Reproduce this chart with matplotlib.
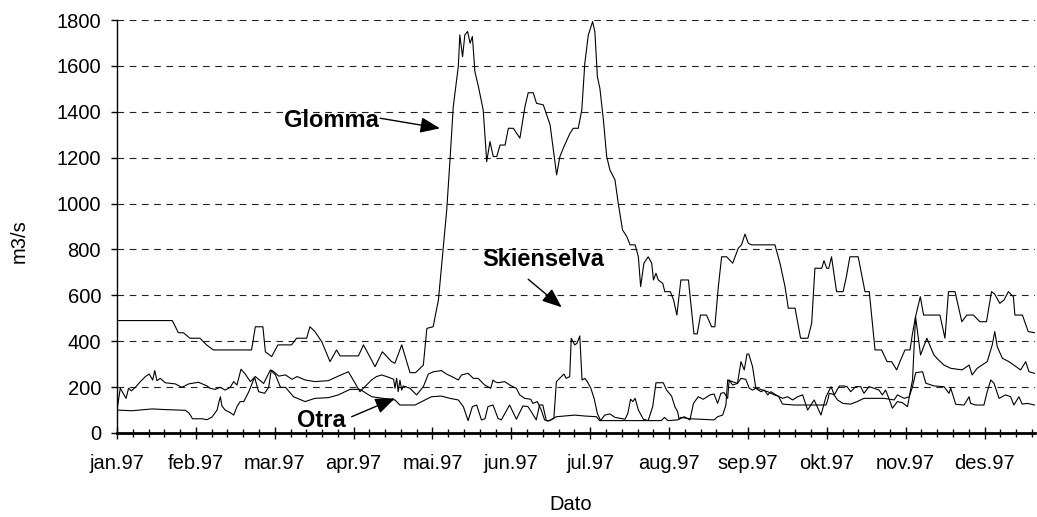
import matplotlib
matplotlib.use("Agg")
import matplotlib.pyplot as plt
import numpy as np

# MATPLOTLIB PARAMS
plt.rcParams['font.family'] = ['Liberation Sans', 'DejaVu Sans']
plt.rcParams['font.size'] = 14.5
plt.rcParams['axes.linewidth'] = 1.0

# DATA : DAILY DISCHARGE 1997 (DAY OF YEAR , m3/s)
glomma_dag = [0, 22, 24.4, 26.4, 29, 33, 35.6, 38.3, 53.5, 55, 58, 59, 61.5, 64, 69.4, 71.4, 75.4,
              76.7, 78.7, 81.4, 84.7, 87.3, 88.7, 96, 98, 102.6, 105.5, 109.2, 110.5, 113.2, 116.5,
              118.7, 121.8, 123.2, 125.7, 127.8, 131.1, 132.4, 133.7, 135.7, 136.3, 137.4, 138.3,
              139.4, 140.4, 141.3, 142.3, 143.7, 145.6, 147, 148.3, 149.6, 151, 152.3, 154.3, 155.6,
              157.6, 160.2, 162.2, 163.5, 165.5, 166.8, 169.5, 172.2, 173.5, 174.8, 176.1, 177.7,
              180.1, 181.4, 183.4, 184.8, 186, 187.4, 189.1, 190, 191, 192, 193.4, 194.7, 196, 198,
              199.3, 201, 202.7, 204, 206, 207.3, 208.2, 209.5, 211.2, 212.6, 213.3, 214.3, 215.2,
              217, 217.8, 220, 221.3, 222.6, 224.2, 227.2, 229.4, 230.7, 232, 234.4, 236.4, 237.7,
              239.1, 240.4, 242.4, 244.8, 247, 248.3, 249.7, 251, 252.3, 261.6, 263.6, 265.6, 266.9,
              269.6, 271.8, 274.7, 276.2, 277.5, 280.2, 281.1, 282.2, 283, 284.1, 286.1, 288.7, 290,
              291.4, 294.7, 297.4, 299.1, 301.4, 304, 306.2, 308, 310, 311.3, 313.3, 315.3, 316.3,
              317.5, 319.4, 320.7, 327.2, 329.2, 330.6, 333.2, 335.9, 337.9, 340.5, 343.1, 345.7,
              347.7, 349, 351, 352.7, 354.4, 356.4, 357, 360, 362.3, 364.9]
glomma_q = [490, 490, 437, 437, 413, 413, 384, 362, 362, 463, 463, 354, 333, 384, 384, 413, 413,
            463, 442, 398, 311, 362, 336, 336, 384, 289, 354, 311, 304, 384, 263,
            263, 296, 456, 463, 580, 972, 1190, 1422, 1597, 1735, 1640, 1735,
            1750, 1699, 1728, 1575, 1510, 1408, 1183, 1270, 1205, 1205, 1255, 1255, 1328,
            1328, 1285, 1422, 1483, 1483, 1437, 1430, 1343, 1234, 1125, 1205, 1248,
            1306, 1328, 1328, 1408, 1611, 1735, 1793, 1749, 1553, 1502, 1364, 1205, 1146, 1103,
            1001, 885, 856, 820, 820, 768, 638, 740, 768, 740, 667, 696, 667,
            652, 616, 616, 580, 514, 667, 667, 432, 432, 514, 514, 463, 463,
            638, 768, 768, 740, 805, 820, 867, 827, 820, 820, 740, 638, 544,
            544, 413, 413, 478, 718, 718, 751, 718, 718, 768, 616, 616, 681,
            768, 768, 616, 616, 362, 362, 311, 311, 275, 311, 362, 362, 434,
            507, 594, 514, 514, 413, 616, 616, 485, 514, 514, 485, 485,
            616, 605, 565, 580, 616, 594, 514, 514, 442, 437]

skien_dag = [0, 1.3, 3.6, 4.6, 5.7, 7.3, 9.3, 11.3, 12.8, 14.2, 15, 15.9, 17.2, 19.2, 23.2, 25.8,
             28.5, 32.4, 35.8, 37, 39, 41, 43, 45, 46.4, 47.7, 49.3, 51, 53, 55, 58.3, 61, 62,
             64.3, 67, 69.6, 71.6, 74.8, 78.7, 84, 88, 92, 94.3, 96.6, 99.2, 101.2, 103.2, 105.2,
             108, 110, 110.5, 111.2, 111.8, 112.5, 113.2, 113.8, 116.5, 119.1, 121.8, 123.8, 125.8,
             129, 131, 133.7, 135.7, 137, 139.6, 141.7, 143.6, 146.2, 148.6, 149.5, 150.5, 151.5,
             154.1, 156.8, 158.8, 160.1, 162.1, 164.5, 165.4, 167.1, 168.7, 170, 171.4, 173.7,
             174.7, 176.4, 177.7, 178.6, 180, 180.6, 182, 182.9, 184, 184.9, 186, 187, 188.4,
             189.7, 191, 192.3, 193.9, 196, 198, 200, 202, 203.1, 204.2, 205.1, 206, 207.3, 209.3,
             211.2, 213, 214.3, 217.2, 218.5, 219.6, 220.5, 221.8, 222.9, 223.5, 225.5, 227.8,
             229.2, 231.1, 233.1, 235.8, 237.4, 238.8, 240.1, 241.4, 242.8, 243.4, 244.8, 246.7,
             248.1, 249.4, 250.5, 251.2, 252.7, 254, 256, 257.4, 258.7, 260, 262, 264.6, 266.6,
             268.6, 270.6, 272.6, 274.6, 277.2, 279.9, 281.9, 283.9, 285.2, 287.2, 289, 290.3,
             291.7, 293.7, 295.7, 297, 299, 301, 303, 304.3, 305.6, 307, 308.3, 310.3, 312.3,
             314.3, 315.5, 316.3, 317.5, 319.5, 322, 324.8, 326.7, 328.8, 331.5, 336, 338.8, 340,
             342, 346, 348, 349, 350, 352, 354.6, 359.3, 361.3, 362.6, 364.9]
skien_q = [100, 195, 151, 195, 184, 199, 224, 246, 257, 231, 272, 228, 238, 219, 214, 199,
           214, 221, 205, 195, 190, 199, 187, 199, 224, 209, 278, 257, 224, 246, 216, 275, 270,
           248, 253, 234, 246, 231, 224, 228, 248, 267, 224, 180, 209, 231, 246, 253,
           243, 234, 195, 238, 180, 230, 187, 205, 195, 166, 202, 257, 267,
           272, 257, 243, 231, 253, 260, 238, 238, 209, 195, 231, 222, 219,
           224, 205, 195, 166, 151, 147, 129, 137, 100, 57, 52, 64,
           224, 243, 257, 238, 246, 413, 384, 391, 423, 231, 238, 224, 195,
           151, 85, 54, 78, 83, 68, 64, 60, 85, 147, 137, 151, 100, 60,
           54, 115, 219, 219, 187, 173, 161, 115, 93, 60, 71, 57,
           129, 158, 147, 166, 170, 129, 173, 176, 151, 231, 209, 216,
           311, 275, 344, 344, 289, 195, 180, 187, 166, 180, 166, 151, 158,
           144, 158, 166, 100, 144, 78, 158, 202, 166, 205, 205, 202,
           180, 202, 202, 173, 202, 195, 187, 166, 187, 148, 108, 137, 132,
           115, 187, 231, 507, 340, 413, 340, 318, 296, 282, 275, 296, 253,
           282, 311, 384, 442, 376, 326, 311, 275, 311, 267, 260]

otra_dag = [0, 6, 14, 19.2, 27.2, 28.7, 30, 33.8, 35.8, 37.8, 39.8, 40.4, 41.1, 41.7, 43, 45,
            46.4, 47.7, 49, 50.4, 52.4, 54.7, 56.3, 58.7, 60.3, 61.3, 63, 65, 67, 70.2, 74.8, 78.7,
            84, 88, 92.6, 96.6, 101.3, 105.8, 110.5, 112.5, 118.5, 121.2, 125, 129, 132.4, 135.7,
            137.7, 139.6, 141.3, 143, 144.9, 146.3, 147.5, 149.5, 151.5, 152.8, 156.1, 158.8,
            161.4, 163.4, 164.7, 166.7, 168, 169.3, 170.7, 172, 174.7, 178, 182, 186, 190.6,
            191.9, 216.4, 217.7, 219, 222.9, 224.2, 228, 237.4, 238.8, 240.8, 242.1, 242.8, 246.7,
            248.1, 250, 251.4, 252.7, 254, 256, 258.7, 261.4, 263, 264.6, 269.2, 275.9, 281.9,
            282.6, 283.2, 285, 286.5, 288.6, 291.7, 294.3, 297, 305, 309, 310.3, 313, 315, 316.3,
            317.6, 320.3, 321.6, 324.9, 328.8, 330.8, 331.5, 333.5, 336.8, 338.8, 339.4, 341.4,
            344.7, 346, 347.4, 348.7, 350.7, 353.3, 355.3, 356.6, 358.6, 359.9, 361.9, 364.9]
otra_q = [100, 97, 105, 102, 99, 86, 62, 62, 58, 70, 100, 129, 158, 118, 100, 89,
          78, 115, 137, 137, 180, 243, 180, 173, 199, 272, 253, 199, 199, 158, 137, 151,
          154, 166, 190, 190, 158, 151, 144, 122, 122, 137, 158, 161, 151, 144,
          115, 54, 115, 122, 57, 62, 115, 122, 64, 57, 122, 60,
          118, 115, 93, 57, 122, 122, 54, 54, 71, 74, 78, 74, 71,
          54, 54, 68, 54, 57, 68, 62, 57, 71, 78, 122, 231, 216,
          238, 234, 195, 187, 195, 190, 180, 166, 160, 126, 122, 122, 122,
          144, 173, 168, 144, 129, 126, 137, 151, 151, 144, 166, 151, 158, 202,
          263, 267, 217, 205, 202, 173, 195, 125, 122, 158, 129, 122,
          122, 180, 231, 217, 151, 166, 158, 122, 158, 126, 129, 122]

# AXIS LABELS
maaneder = ["jan.97", "feb.97", "mar.97", "apr.97", "mai.97", "jun.97",
            "jul.97", "aug.97", "sep.97", "okt.97", "nov.97", "des.97"]
yticks = np.arange(0, 1801, 200)

# FIGURE
fig = plt.figure(figsize=(10.37, 5.17), dpi=100)
ax = fig.add_axes([117/1037., 1-433/517., 918/1037., 413/517.])

for dag, q in [(glomma_dag, glomma_q), (skien_dag, skien_q), (otra_dag, otra_q)]:
    ax.plot(dag, q, color="k", linewidth=0.8, zorder=3)

ax.set_xlim(0, 365)
ax.set_ylim(0, 1800)

# TICKS (EXCEL CATEGORY AXIS : LABEL EVERY 5 TICK MARKS)
step = 365 / 58.2
ax.set_xticks(np.arange(12) * 5 * step)
ax.set_xticklabels(maaneder)
ax.set_xticks(np.arange(59) * step, minor=True)
ax.tick_params(axis="x", which="major", direction="inout", length=8, width=1, pad=11)
ax.tick_params(axis="x", which="minor", direction="inout", length=5.5, width=1)
ax.set_yticks(yticks)
ax.tick_params(axis="y", direction="out", length=4.5, width=1, pad=7)

ax.grid(axis="y", color="#222222", linestyle=(0, (6, 5)), linewidth=0.8)
ax.set_axisbelow(True)
for s in ["top", "right"]:
    ax.spines[s].set_visible(False)
ax.spines["bottom"].set_linewidth(2)
ax.spines["bottom"].set_zorder(4)

# LABELS
fig.text(571/1037., 1-505/517., "Dato", ha="center", va="center")
fig.text(19/1037., 1-241/517., "m3/s", ha="center", va="center", rotation=90)

# ANNOTATIONS
bold = dict(fontsize=17, fontweight="bold", va="baseline")
ax.text(104, 1335, "Glomma", ha="right", **bold)
ax.text(145.3, 728, "Skienselva", ha="left", **bold)
ax.text(71.5, 26, "Otra", ha="left", **bold)

pil = dict(arrowstyle="-|>,head_length=1.0,head_width=0.4", color="k", lw=1,
           mutation_scale=12, shrinkA=0, shrinkB=0)
ax.annotate("", xy=(128.4, 1328), xytext=(104.6, 1372), arrowprops=pil)
ax.annotate("", xy=(176.8, 548), xytext=(163.5, 670), arrowprops=pil)
ax.annotate("", xy=(110.5, 151), xytext=(93.3, 71), arrowprops=pil)

plt.savefig("out.png", dpi=100)
